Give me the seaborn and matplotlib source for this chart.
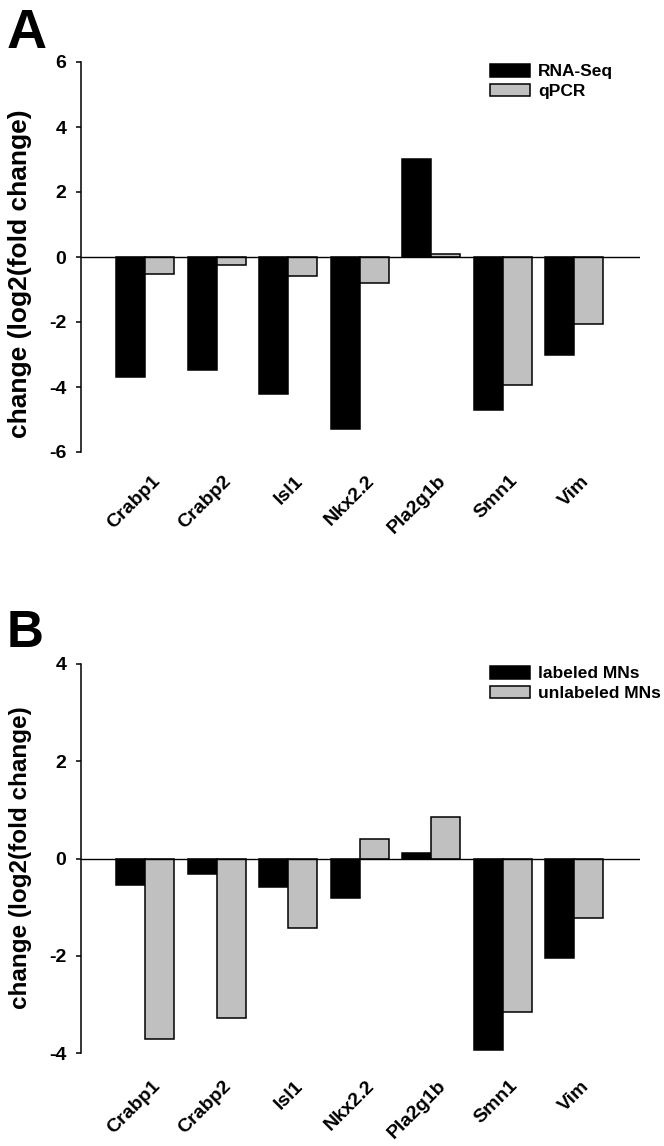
import numpy as np
import pandas as pd
import matplotlib
matplotlib.use("Agg")
import matplotlib.pyplot as plt
from matplotlib.patches import Patch
from matplotlib.transforms import ScaledTranslation
import seaborn as sns

# ---- data ----
genes = ["Crabp1", "Crabp2", "Isl1", "Nkx2.2", "Pla2g1b", "Smn1", "Vim"]
rnaseq = [-3.70, -3.48, -4.20, -5.30, 3.03, -4.71, -3.03]
qpcr = [-0.51, -0.26, -0.57, -0.79, 0.10, -3.94, -2.06]
labeled_mns = [-0.54, -0.32, -0.58, -0.81, 0.12, -3.94, -2.05]
unlabeled_mns = [-3.72, -3.28, -1.42, 0.40, 0.86, -3.15, -1.23]

series_a = ["RNA-Seq", "qPCR"]
series_b = ["labeled MNs", "unlabeled MNs"]
ticks_a = [-6, -4, -2, 0, 2, 4, 6]
ticks_b = [-4, -2, 0, 2, 4]
ylabel = "change (log2(fold change)"

sns.set_theme(style="white")
plt.rcParams["font.family"] = ["Liberation Sans", "DejaVu Sans"]
plt.rcParams["font.weight"] = "bold"
for k in ["text.color", "axes.labelcolor", "xtick.color", "ytick.color", "axes.edgecolor"]:
    plt.rcParams[k] = "black"

colors = ["#000000", "#c0c0c0"]

W, H = 664, 1146
fig = plt.figure(figsize=(W / 100, H / 100), dpi=100)


def px_axes(left, top, right, bottom):
    return fig.add_axes([left / W, 1 - bottom / H, (right - left) / W, (bottom - top) / H])


axA = px_axes(81, 62, 640, 452)
axB = px_axes(81, 664, 640, 1053)


def draw(ax, v1, v2, names, ticks, ylab_size, ylab_y, xpad):
    df = pd.DataFrame({
        "gene": genes * 2,
        "value": list(v1) + list(v2),
        "series": [names[0]] * len(genes) + [names[1]] * len(genes),
    })
    sns.barplot(data=df, x="gene", y="value", hue="series", order=genes,
                hue_order=names, palette=colors, edgecolor="black",
                linewidth=1.1, width=0.81, gap=0, ax=ax, legend=False,
                errorbar=None, saturation=1)
    ax.axhline(0, color="black", lw=1.0, zorder=5)
    ax.set_xlim(-0.90, 6.92)
    ax.set_ylim(ticks[0], ticks[-1])
    ax.set_yticks(ticks)
    ax.set_yticklabels([str(t) for t in ticks], fontsize=14, fontweight="bold")
    for s in ["top", "right", "bottom"]:
        ax.spines[s].set_visible(False)
    ax.spines["left"].set_linewidth(1.1)
    ax.spines["left"].set_color("black")
    ax.tick_params(axis="y", direction="out", length=3.6, width=1.1,
                   color="black", pad=7, left=True)
    ax.tick_params(axis="x", length=0, pad=xpad)
    ax.set_xlabel("")
    ax.set_ylabel(ylabel, fontsize=ylab_size, fontweight="bold")
    ax.yaxis.set_label_coords(-0.088, ylab_y)
    off = ScaledTranslation(12 / 100, 0, fig.dpi_scale_trans)
    for lab in ax.get_xticklabels():
        lab.set_rotation(45)
        lab.set_ha("right")
        lab.set_va("center")
        lab.set_rotation_mode("anchor")
        lab.set_fontsize(14)
        lab.set_fontweight("bold")
        lab.set_transform(lab.get_transform() + off)
    handles = [Patch(facecolor=c, edgecolor="black", linewidth=1.1) for c in colors]
    ax.legend(handles, names, loc="upper left", bbox_to_anchor=(0.732, 0.995),
              frameon=False, handlelength=2.3, handleheight=0.75,
              handletextpad=0.45, labelspacing=0.25, borderpad=0,
              borderaxespad=0, prop={"weight": "bold", "size": 12.5})


draw(axA, rnaseq, qpcr, series_a, ticks_a, 19, 0.456, 19)
draw(axB, labeled_mns, unlabeled_mns, series_b, ticks_b, 17.5, 0.501, 22)

fig.text(7 / W, 1 - 48 / H, "A", fontsize=40, fontweight="bold", va="baseline", ha="left")
fig.text(7 / W, 1 - 647 / H, "B", fontsize=37, fontweight="bold", va="baseline", ha="left")

fig.savefig("out.png", dpi=100)
